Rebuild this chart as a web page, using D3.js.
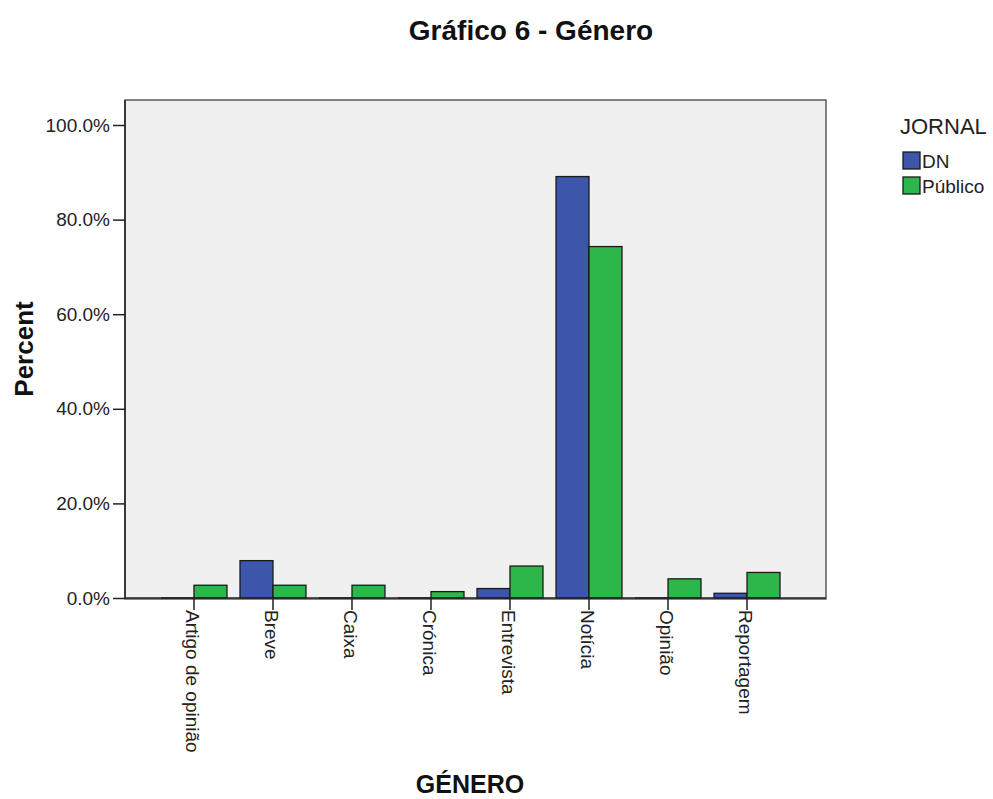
<!DOCTYPE html>
<html><head><meta charset="utf-8">
<script src="https://cdn.jsdelivr.net/npm/d3@7"></script>
<style>body{margin:0;background:#fff;} text{font-family:"Liberation Sans",Arial,sans-serif;}</style>
</head><body>
<svg id="chart" width="993" height="799"></svg>
<script>
const categories = ["Artigo de opinião","Breve","Caixa","Crónica","Entrevista","Notícia","Opinião","Reportagem"];
const seriesNames = ["DN","Público"];
const dnValues = [0, 7.9, 0, 0, 2.0, 89.1, 0, 1.0];
const publicoValues = [2.7, 2.7, 2.7, 1.35, 6.76, 74.3, 4.05, 5.4];
const yTicks = [0, 20, 40, 60, 80, 100];
const colors = ["#3c56a9", "#2db74b"];

const svg = d3.select("#chart");
const plot = {left:125, right:826, top:100, bottom:599};

const x = d3.scaleBand().domain(categories).range([161, 780]).paddingInner(0.165).paddingOuter(0);
const xs = d3.scaleBand().domain(seriesNames).range([0, x.bandwidth()]);
const y = d3.scaleLinear().domain([0, 100]).range([598, 125]);

// plot background
svg.append("rect").attr("x", plot.left).attr("y", plot.top)
  .attr("width", plot.right - plot.left).attr("height", plot.bottom - plot.top)
  .attr("fill", "#f0f0f0").attr("stroke", "#333").attr("stroke-width", 1.2);

// bars
const rows = [];
categories.forEach((c, i) => {
  rows.push({cat:c, s:"DN", v:dnValues[i], color:colors[0]});
  rows.push({cat:c, s:"Público", v:publicoValues[i], color:colors[1]});
});
const g = svg.append("g");
rows.forEach(d => {
  const bx = x(d.cat) + xs(d.s);
  if (d.v > 0) {
    g.append("rect").attr("x", bx).attr("y", y(d.v)).attr("width", xs.bandwidth())
      .attr("height", y(0) - y(d.v)).attr("fill", d.color).attr("stroke", "#1a1a1a").attr("stroke-width", 1.3);
  } else {
    g.append("line").attr("x1", bx).attr("x2", bx + xs.bandwidth()).attr("y1", y(0)).attr("y2", y(0))
      .attr("stroke", "#1a1a1a").attr("stroke-width", 1.6);
  }
});

// y axis
const yAxis = svg.append("g").attr("transform", `translate(${plot.left},0)`)
  .call(d3.axisLeft(y).tickValues(yTicks).tickFormat(d => d.toFixed(1) + "%").tickSize(12).tickPadding(3));
yAxis.select(".domain").attr("stroke", "#222").attr("stroke-width", 1.5).attr("d", `M0,${plot.top}V${plot.bottom}`);
yAxis.selectAll(".tick line").attr("stroke", "#222").attr("stroke-width", 1.5);
yAxis.selectAll(".tick text").attr("font-size", 19).attr("fill", "#222").attr("font-family", "Liberation Sans, Arial, sans-serif");

// x axis
const xAxis = svg.append("g").attr("transform", `translate(0,${y(0)})`)
  .call(d3.axisBottom(x).tickSize(12).tickSizeOuter(0));
xAxis.select(".domain").attr("stroke", "#222").attr("stroke-width", 1.5).attr("d", `M${plot.left},0H${plot.right}`);
xAxis.selectAll(".tick line").attr("stroke", "#222").attr("stroke-width", 1.5);
xAxis.selectAll(".tick text").attr("font-size", 19).attr("fill", "#222")
  .attr("font-family", "Liberation Sans, Arial, sans-serif")
  .attr("text-anchor", "start").attr("transform", "translate(0,12) rotate(90)")
  .attr("x", 0).attr("y", 8).attr("dy", 0);

// titles
svg.append("text").attr("x", 531).attr("y", 40).attr("text-anchor", "middle")
  .attr("font-size", 28).attr("font-weight", "bold").attr("fill", "#111").text("Gráfico 6 - Género");
svg.append("text").attr("x", 470).attr("y", 793).attr("text-anchor", "middle")
  .attr("font-size", 25).attr("font-weight", "bold").attr("fill", "#111").text("GÉNERO");
svg.append("text").attr("transform", "translate(33,349) rotate(-90)").attr("text-anchor", "middle")
  .attr("font-size", 26).attr("font-weight", "bold").attr("fill", "#111").text("Percent");

// legend
const lg = svg.append("g");
lg.append("text").attr("x", 900).attr("y", 134).attr("font-size", 22).attr("fill", "#222").text("JORNAL");
seriesNames.forEach((s, i) => {
  const yy = 152 + i * 25;
  lg.append("rect").attr("x", 903).attr("y", yy).attr("width", 17).attr("height", 17)
    .attr("fill", colors[i]).attr("stroke", "#1a1a1a").attr("stroke-width", 1.3);
  lg.append("text").attr("x", 922).attr("y", yy + 16).attr("font-size", 19).attr("fill", "#222").text(s);
});
</script>
</body></html>
